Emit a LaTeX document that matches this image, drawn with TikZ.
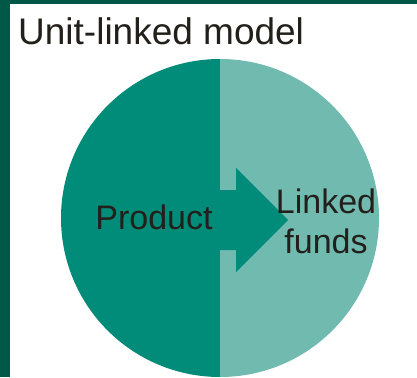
\documentclass[tikz,border=0pt]{standalone}
\usepackage{fontspec}
\setmainfont{Liberation Sans}
\usetikzlibrary{positioning}
\definecolor{bgdark}{RGB}{0,88,70}
\definecolor{tealdark}{RGB}{0,140,120}
\definecolor{teallight}{RGB}{112,186,176}
\definecolor{inktext}{RGB}{35,31,26}
\tikzset{label/.style={text=inktext,inner sep=0pt,align=center,font=\fontsize{34}{40}\selectfont},title/.style={label,anchor=base west,font=\fontsize{37}{44}\selectfont}}

\begin{document}
\begin{tikzpicture}[x=1pt,y=-1pt]
\useasboundingbox (0,0) rectangle (417,377);
\fill[bgdark] (0,0) rectangle (417,377);
\fill[white] (10,4) rectangle (417,377);
% two halves of the disc
\fill[tealdark] (220,59) arc[start angle=-90,end angle=-270,radius=159] -- cycle;
\fill[teallight] (220,59) arc[start angle=-90,end angle=90,radius=159] -- cycle;
% arrow from product into funds
\fill[tealdark] (219,190) -- (236,190) -- (236,168) -- (288,220) -- (236,272) -- (236,250) -- (219,250) -- cycle;
\node[title] (t) at (18,45) {Unit-linked model};
\node[label,anchor=base] (p) at (154,229) {Product};
\node[label,anchor=base] (f) at (326,253) {Linked\\funds};
\end{tikzpicture}
\end{document}
